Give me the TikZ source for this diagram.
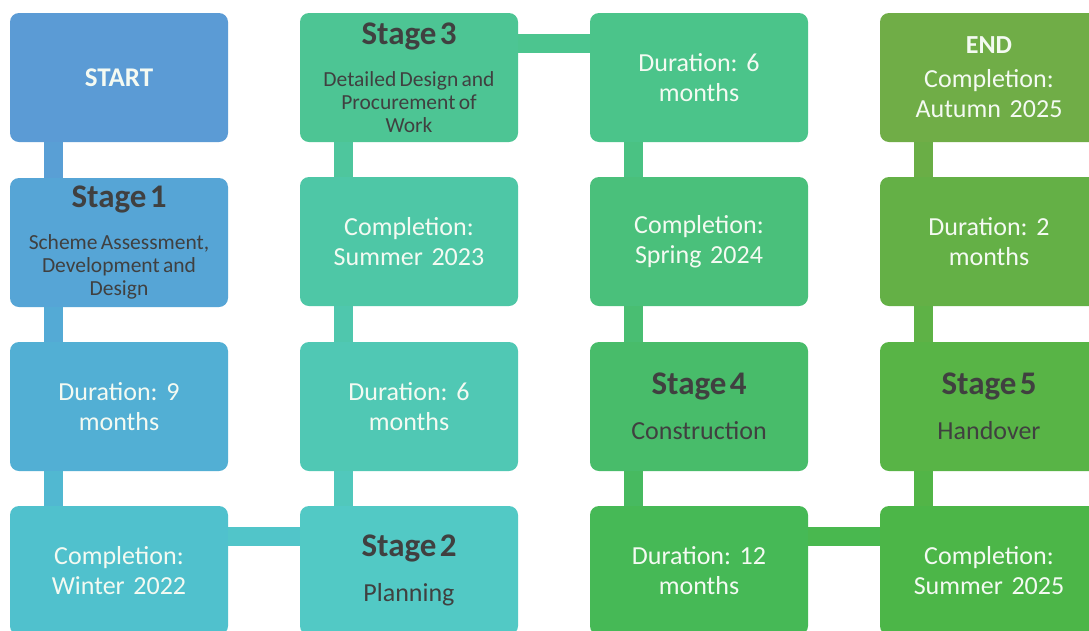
\documentclass[tikz,border=0pt]{standalone}
\usepackage{fontspec}
\setmainfont{Carlito}
\frenchspacing
\definecolor{cStart}{HTML}{5B9BD5}
\definecolor{cSa}{HTML}{56A5D6}
\definecolor{cDa}{HTML}{52AFD4}
\definecolor{cCa}{HTML}{50C1CD}
\definecolor{cSb}{HTML}{52C9C5}
\definecolor{cDb}{HTML}{50C8B4}
\definecolor{cCb}{HTML}{4EC7A6}
\definecolor{cSc}{HTML}{4DC594}
\definecolor{cDc}{HTML}{4BC48A}
\definecolor{cCc}{HTML}{4AC07B}
\definecolor{cSd}{HTML}{48BC6A}
\definecolor{cDd}{HTML}{46B956}
\definecolor{cCd}{HTML}{4CB648}
\definecolor{cSe}{HTML}{58B446}
\definecolor{cDe}{HTML}{64B046}
\definecolor{cEnd}{HTML}{70AD47}
\definecolor{dgray}{HTML}{404040}
\definecolor{lwhite}{HTML}{F4FAF2}
\newcommand{\stgtitle}[1]{{\fontsize{33}{36}\selectfont\bfseries #1\par}}
\newcommand{\stgsubs}[1]{{\fontsize{21.5}{23}\selectfont #1\par}}
\newcommand{\stgsubl}[1]{{\fontsize{26}{30}\selectfont #1\par}}
\begin{document}
\begin{tikzpicture}[x=1pt,y=-1pt,
  box/.style={rounded corners=9pt, minimum width=218pt, minimum height=129pt,
    inner sep=0pt, text width=214pt, align=center},
  wbox/.style={box, text=lwhite, font=\fontsize{26}{30}\selectfont},
  sbox/.style={box, text=dgray},
  conn/.style={line width=19pt}]
\clip (0,0) rectangle (1089,630);
\fill[white] (0,0) rectangle (1089,630);
% column 1
\node[wbox, fill=cStart, font=\fontsize{27}{30}\selectfont\bfseries] (start) at (119,77.5) {START};
\node[sbox, fill=cSa] (s1) at (119,242.5) {\stgtitle{Stage 1}\vspace{19pt}\stgsubs{Scheme Assessment,\\Development and\\Design}};
\node[wbox, fill=cDa] (d1) at (119,406.5) {Duration: 9\\months};
\node[wbox, fill=cCa] (c1) at (119,570.5) {Completion:\\Winter 2022};
% column 2
\node[sbox, fill=cSb] (s2) at (409,570.5) {\stgtitle{Stage 2}\vspace{15pt}\stgsubl{Planning}};
\node[wbox, fill=cDb] (d2) at (409,406.5) {Duration: 6\\months};
\node[wbox, fill=cCb] (c2) at (409,241.5) {Completion:\\Summer 2023};
\node[sbox, fill=cSc] (s3) at (409,77.5) {\stgtitle{Stage 3}\vspace{19pt}\stgsubs{Detailed Design and\\Procurement of\\Work}};
% column 3
\node[wbox, fill=cDc] (d3) at (699,77.5) {Duration: 6\\months};
\node[wbox, fill=cCc] (c3) at (699,241.5) {Completion:\\Spring 2024};
\node[sbox, fill=cSd] (s4) at (699,406.5) {\stgtitle{Stage 4}\vspace{15pt}\stgsubl{Construction}};
\node[wbox, fill=cDd] (d4) at (699,570.5) {Duration: 12\\months};
% column 4
\node[wbox, fill=cCd] (c4) at (989,570.5) {Completion:\\Summer 2025};
\node[sbox, fill=cSe] (s5) at (989,406.5) {\stgtitle{Stage 5}\vspace{15pt}\stgsubl{Handover}};
\node[wbox, fill=cDe] (d5) at (989,241.5) {Duration: 2\\months};
\node[wbox, fill=cEnd] (end) at (989,77.5) {{\fontsize{26}{28}\selectfont\bfseries END\par}\vspace{4pt}Completion:\\Autumn 2025};
% connectors
\draw[conn, cStart!60!cSa] ([xshift=-65.5pt]start.south) -- ([xshift=-65.5pt]s1.north);
\draw[conn, cSa!50!cDa] ([xshift=-65.5pt]s1.south) -- ([xshift=-65.5pt]d1.north);
\draw[conn, cDa!50!cCa] ([xshift=-65.5pt]d1.south) -- ([xshift=-65.5pt]c1.north);
\draw[conn, cCa!50!cSb] ([yshift=34pt]c1.east) -- ([yshift=34pt]s2.west);
\draw[conn, cSb!50!cDb] ([xshift=-65.5pt]s2.north) -- ([xshift=-65.5pt]d2.south);
\draw[conn, cDb!50!cCb] ([xshift=-65.5pt]d2.north) -- ([xshift=-65.5pt]c2.south);
\draw[conn, cCb!50!cSc] ([xshift=-65.5pt]c2.north) -- ([xshift=-65.5pt]s3.south);
\draw[conn, cSc!50!cDc] ([yshift=34pt]s3.east) -- ([yshift=34pt]d3.west);
\draw[conn, cDc!50!cCc] ([xshift=-65.5pt]d3.south) -- ([xshift=-65.5pt]c3.north);
\draw[conn, cCc!50!cSd] ([xshift=-65.5pt]c3.south) -- ([xshift=-65.5pt]s4.north);
\draw[conn, cSd!50!cDd] ([xshift=-65.5pt]s4.south) -- ([xshift=-65.5pt]d4.north);
\draw[conn, cDd!50!cCd] ([yshift=34pt]d4.east) -- ([yshift=34pt]c4.west);
\draw[conn, cCd!50!cSe] ([xshift=-65.5pt]c4.north) -- ([xshift=-65.5pt]s5.south);
\draw[conn, cSe!50!cDe] ([xshift=-65.5pt]s5.north) -- ([xshift=-65.5pt]d5.south);
\draw[conn, cDe!50!cEnd] ([xshift=-65.5pt]d5.north) -- ([xshift=-65.5pt]end.south);
\end{tikzpicture}
\end{document}
